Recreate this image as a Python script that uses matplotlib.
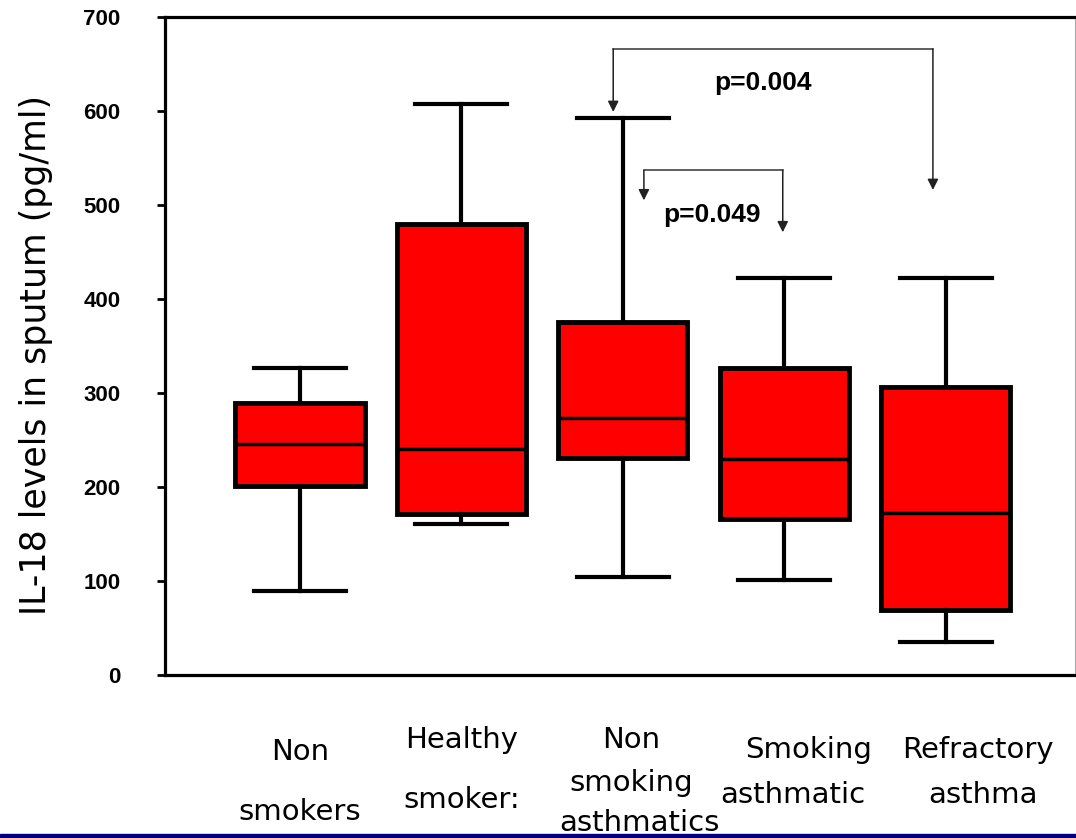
import matplotlib
matplotlib.use("Agg")
import matplotlib.pyplot as plt
import matplotlib.transforms as mtransforms
from matplotlib.patches import Rectangle

# box statistics (pg/ml)
groups = ["Non smokers", "Healthy smokers", "Non smoking asthmatics",
          "Smoking asthmatic", "Refractory asthma"]
whis_lo = [89, 161, 104, 101, 35]
q1 = [201, 171, 231, 166, 69]
medians = [246, 240, 273, 230, 172]
q3 = [289, 480, 375, 327, 306]
whis_hi = [327, 607, 593, 422, 422]

yticks = [0, 100, 200, 300, 400, 500, 600, 700]

# significance brackets: (left x, right x, bar height, left tip, right tip)
brackets = [(2.94, 4.92, 666, 599, 516),
            (3.13, 3.99, 537, 505, 471)]
p_labels = ["p=0.004", "p=0.049"]
p_pos = [(3.87, 630), (3.55, 489)]

# x labels, one line each, with (x centre in data, y pixel from top)
xlab_lines = [("Non", 1.0, 752), ("smokers", 1.0, 812),
              ("Healthy", 2.0, 740), ("smoker:", 2.0, 800),
              ("Non", 3.05, 740), ("smoking", 3.05, 783), ("asthmatics", 3.1, 823),
              ("Smoking", 4.15, 750), ("asthmatic", 4.05, 795),
              ("Refractory", 5.2, 750), ("asthma", 5.23, 795)]

W, H = 1076, 838
fig = plt.figure(figsize=(W / 100, H / 100), dpi=100)
ax_w = 1075 - 165
ax = fig.add_axes([165 / W, 1 - 675 / H, ax_w / W, (675 - 17) / H])

stats = []
for i in range(len(groups)):
    stats.append(dict(med=medians[i], q1=q1[i], q3=q3[i],
                      whislo=whis_lo[i], whishi=whis_hi[i], fliers=[]))

ax.bxp(stats, positions=range(1, len(groups) + 1), widths=0.8,
       capwidths=0.57, patch_artist=True, showfliers=False,
       boxprops=dict(facecolor="#ff0000", edgecolor="black", linewidth=3.5),
       whiskerprops=dict(color="black", linewidth=3),
       capprops=dict(color="black", linewidth=3),
       medianprops=dict(color="black", linewidth=2.5))

for (xl, xr, top, tl, tr) in brackets:
    ax.plot([xl, xr], [top, top], color="#333333", lw=1.1)
    for x, tip in [(xl, tl), (xr, tr)]:
        ax.annotate("", xy=(x, tip), xytext=(x, top),
                    arrowprops=dict(arrowstyle="-|>", color="#222222",
                                    lw=1.1, mutation_scale=16,
                                    shrinkA=0, shrinkB=0))
for lab, (x, y) in zip(p_labels, p_pos):
    ax.text(x, y, lab, ha="center", va="center", fontsize=19,
            fontweight="bold", family="Liberation Sans")

ax.set_xlim(0.164, 5.80)
ax.set_ylim(0, 700)
ax.set_yticks(yticks)
ax.set_xticks([])
ax.tick_params(axis="y", direction="out", length=6, width=2, pad=26,
               labelsize=16)
for lbl in ax.get_yticklabels():
    lbl.set_family("Liberation Sans")
    lbl.set_fontweight("bold")

for s in ["left", "bottom", "top"]:
    ax.spines[s].set_linewidth(2.3)
ax.spines["right"].set_linewidth(0.8)
ax.spines["right"].set_color("#aaaaaa")

ax.set_ylabel("IL-18 levels in sputum (pg/ml)", fontsize=25)
ax.yaxis.set_label_coords((53 - 165) / ax_w, 0.486)

trans = mtransforms.blended_transform_factory(ax.transData, fig.transFigure)
for txt, x, ypix in xlab_lines:
    ax.text(x, 1 - ypix / H, txt, transform=trans, ha="center", va="center",
            fontsize=21, clip_on=False)

fig.add_artist(Rectangle((0, 0), 1, 4 / H, transform=fig.transFigure,
                         color="#000080"))

fig.savefig("out.png", dpi=100)
